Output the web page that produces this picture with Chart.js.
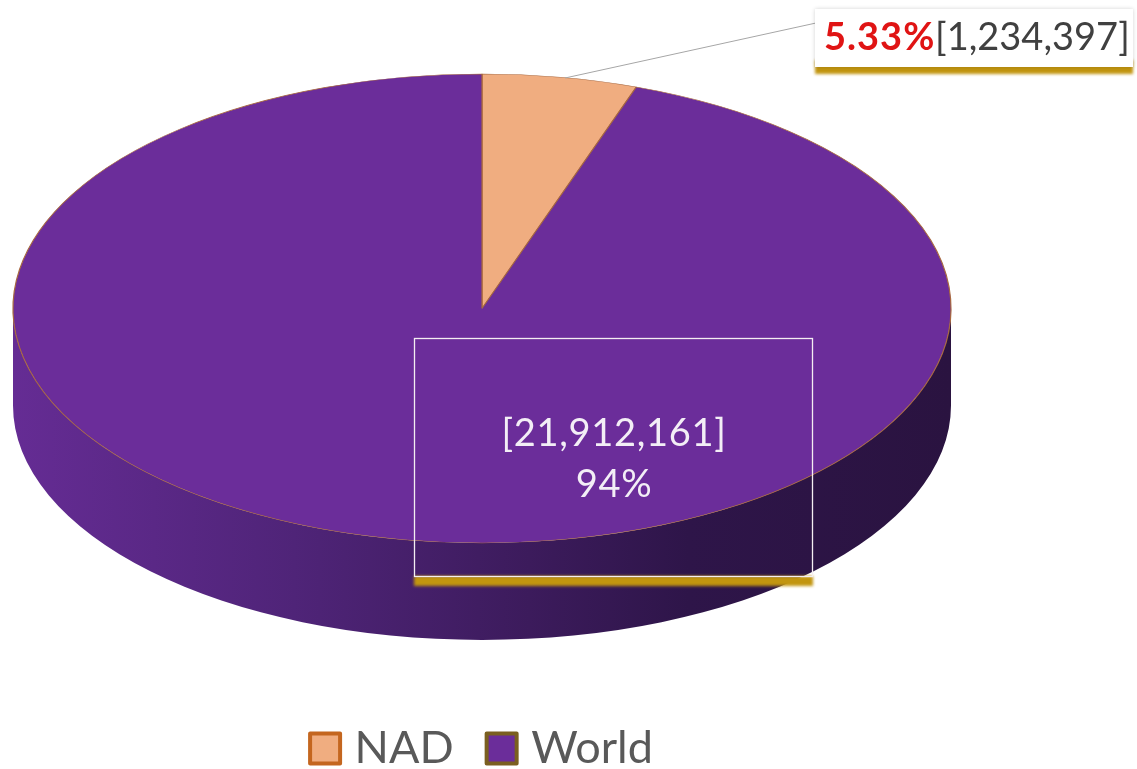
<!DOCTYPE html>
<html>
<head>
<meta charset="utf-8">
<style>html,body{margin:0;padding:0;background:#fff}canvas{display:block}</style>
<script src="https://cdn.jsdelivr.net/npm/chart.js@4"></script>
</head>
<body>
<canvas id="c" width="1137" height="769"></canvas>
<script>
const categories = ['NAD', 'World'];
const values = [1234397, 21912161];
const percentLabels = ['5.33%', '94%'];
const valueLabels = ['[1,234,397]', '[21,912,161]'];
const sliceColors = ['#f0ad80', '#6b2d9a'];
const legendBorders = ['#c4661f', '#7a5f20'];

const FONT = 'Lato, "Open Sans", sans-serif';
const TILT = { cx: 482, cy: 308.5, squash: 0.5, depth: 97 };

const pie3d = {
  id: 'pie3d',
  beforeDatasetsDraw(chart) {
    const ctx = chart.ctx;
    const arc = chart.getDatasetMeta(0).data[0];
    const rx = arc.outerRadius, ry = rx * TILT.squash;
    const { cx, cy, depth } = TILT;
    const g = ctx.createLinearGradient(cx - rx, 0, cx + rx, 0);
    g.addColorStop(0, '#652c94');
    g.addColorStop(0.3, '#4f2478');
    g.addColorStop(0.55, '#3c1b5c');
    g.addColorStop(0.72, '#2e1549');
    g.addColorStop(1, '#2a1340');
    ctx.save();
    ctx.beginPath();
    ctx.ellipse(cx, cy, rx, ry, 0, 0, Math.PI);
    ctx.ellipse(cx, cy + depth, rx, ry, 0, Math.PI, 0, true);
    ctx.closePath();
    ctx.fillStyle = g;
    ctx.fill();
    ctx.restore();
    ctx.save();
    ctx.translate(cx, cy);
    ctx.scale(1, TILT.squash);
    ctx.translate(-arc.x, -arc.y);
  },
  afterDatasetsDraw(chart) {
    chart.ctx.restore();
  },
  afterDraw(chart) {
    const ctx = chart.ctx;
    ctx.save();
    // leader line
    ctx.strokeStyle = '#a6a6a6';
    ctx.lineWidth = 1;
    ctx.beginPath();
    ctx.moveTo(565, 78);
    ctx.lineTo(816, 23);
    ctx.stroke();

    // first callout
    ctx.save();
    ctx.filter = 'blur(1.5px)';
    ctx.fillStyle = '#c2950f';
    ctx.fillRect(815, 60, 318, 14);
    ctx.restore();
    ctx.save();
    ctx.shadowColor = 'rgba(0,0,0,0.18)';
    ctx.shadowBlur = 4;
    ctx.fillStyle = '#fff';
    ctx.fillRect(815, 9, 318, 58);
    ctx.restore();
    ctx.textBaseline = 'alphabetic';
    ctx.textAlign = 'left';
    ctx.font = 'bold 38px ' + FONT;
    ctx.letterSpacing = '1px';
    ctx.fillStyle = '#e01414';
    ctx.fillText(percentLabels[0], 824, 50);
    ctx.font = '38px ' + FONT;
    ctx.letterSpacing = '0px';
    ctx.fillStyle = '#404040';
    ctx.fillText(valueLabels[0], 935, 50);

    // second callout
    ctx.save();
    ctx.filter = 'blur(1.5px)';
    ctx.fillStyle = '#c2950f';
    ctx.fillRect(414, 576, 399, 10);
    ctx.restore();
    ctx.strokeStyle = '#f4eef2';
    ctx.lineWidth = 1.3;
    ctx.strokeRect(414.5, 338.5, 398, 238);
    ctx.fillStyle = '#f3eef6';
    ctx.textAlign = 'center';
    ctx.font = '38px ' + FONT;
    ctx.letterSpacing = '0.7px';
    ctx.fillText(valueLabels[1], 614, 446);
    ctx.fillText(percentLabels[1], 614, 497);
    ctx.restore();
  }
};

new Chart(document.getElementById('c'), {
  type: 'pie',
  data: {
    labels: categories,
    datasets: [{
      data: values,
      backgroundColor: sliceColors,
      borderColor: '#a8683f',
      borderWidth: 1.2,
      clip: false
    }]
  },
  plugins: [pie3d],
  options: {
    responsive: false,
    animation: false,
    radius: 469,
    layout: { padding: { right: 166, bottom: -12 } },
    plugins: {
      tooltip: { enabled: false },
      title: { display: false },
      legend: {
        position: 'bottom',
        labels: {
          font: { family: FONT, size: 45 },
          color: '#595959',
          usePointStyle: true,
          pointStyle: 'rect',
          boxWidth: 14,
          boxHeight: 30,
          padding: 41,
          generateLabels() {
            return categories.map((t, i) => ({
              text: t,
              fillStyle: sliceColors[i],
              strokeStyle: legendBorders[i],
              lineWidth: 4,
              lineJoin: 'round',
              pointStyle: 'rect',
              fontColor: '#595959',
              index: i,
              hidden: false
            }));
          }
        }
      }
    }
  }
});
</script>
</body>
</html>
